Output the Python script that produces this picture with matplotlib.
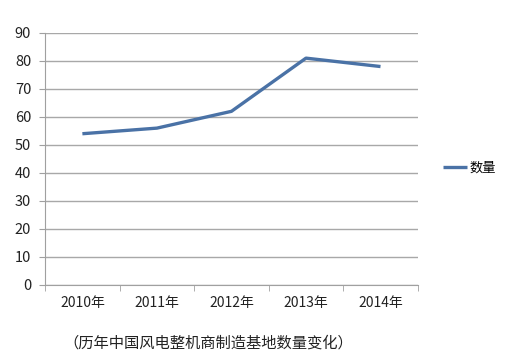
import matplotlib
matplotlib.use("Agg")
import matplotlib.pyplot as plt
import numpy as np

plt.rcParams['font.family'] = ['Noto Sans CJK SC', 'DejaVu Sans']

# data
years = ['2010年', '2011年', '2012年', '2013年', '2014年']
counts = [54, 56, 62, 81, 78]
yticks = [0, 10, 20, 30, 40, 50, 60, 70, 80, 90]

fig = plt.figure(figsize=(5.07, 3.62), dpi=100)
ax = fig.add_axes([0.089, 0.213, 0.735, 0.696])

x = np.arange(len(years))
line, = ax.plot(x, counts, color='#4a72a6', lw=2.4, solid_capstyle='butt', label='数量')

ax.set_xlim(-0.5, len(years) - 0.5)
ax.set_ylim(0, 90)
ax.set_yticks(yticks)
ax.set_yticklabels([str(v) for v in yticks], fontsize=10.5, color='#222222')
ax.yaxis.grid(True, color='#a8a8a8', lw=1)
ax.set_axisbelow(True)

# category labels between boundary ticks
ax.set_xticks(x)
ax.set_xticklabels(years, fontsize=10, color='#222222', fontweight='medium')
ax.tick_params(axis='x', length=0, pad=8)
ax.set_xticks(np.arange(len(years) + 1) - 0.5, minor=True)
ax.tick_params(axis='x', which='minor', length=4, color='#a0a0a0')
ax.tick_params(axis='y', length=4, color='#a0a0a0', pad=6)

for s in ['top', 'right']:
    ax.spines[s].set_visible(False)
for s in ['left', 'bottom']:
    ax.spines[s].set_color('#a0a0a0')

fig.legend(handles=[line], loc='center left', bbox_to_anchor=(0.85, 0.535),
           frameon=False, fontsize=9.5, handlelength=1.8, handletextpad=0.25)

fig.text(0.125, 0.04, '（历年中国风电整机商制造基地数量变化）', fontsize=11, color='#222222')

fig.savefig('out.png', dpi=100)
